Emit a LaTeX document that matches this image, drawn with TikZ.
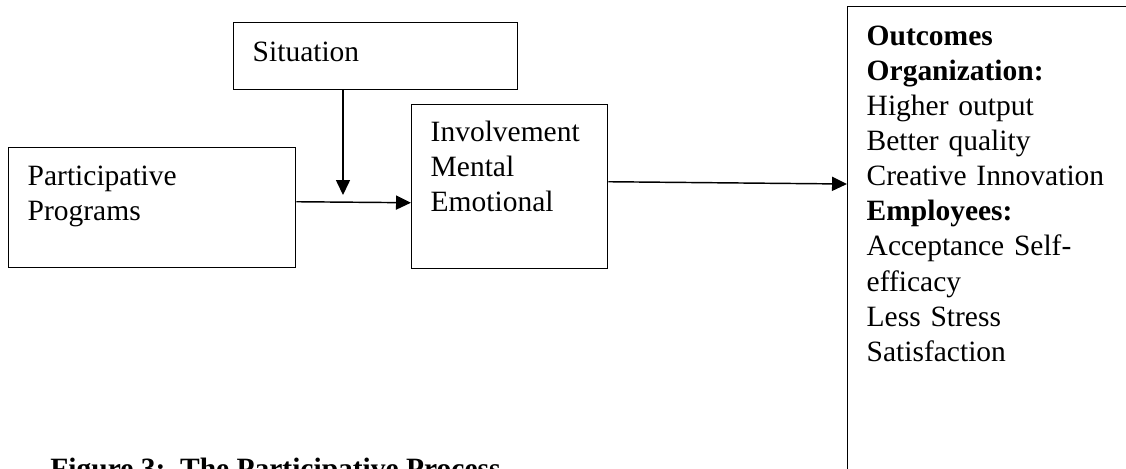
\documentclass[tikz,border=0pt]{standalone}
\usepackage{fontspec}
\setmainfont{Liberation Serif}
\usetikzlibrary{arrows.meta, positioning, calc}

\begin{document}
\begin{tikzpicture}[
    x=0.4138pt, y=-0.4138pt,
    font=\fontsize{12.2}{14.5}\selectfont,
    box/.style={draw, line width=0.6pt, rectangle, anchor=north west, align=left, inner xsep=7.86pt, inner ysep=0pt},
    arrow/.style={line width=0.6pt, -{Triangle[length=6.2pt, width=5.8pt]}}
]
\path[use as bounding box, clip] (0,0) rectangle (1126,468);

% Boxes
\node (situation) [box, text width=101.8pt, text height=16.14pt, text depth=11.59pt] at (233,22) {Situation};
\node (participative) [box, text width=103pt, text height=15.72pt, text depth=33.93pt] at (8,147) {Participative\\Programs};
\node (involvement) [box, text width=65.4pt, text height=15.31pt, text depth=52.55pt] at (411,104) {Involvement\\Mental\\Emotional};
\node (outcomes) [box, text width=103.5pt, text height=16.14pt, text depth=184.1pt] at (847,6) {\textbf{Outcomes}\\\textbf{Organization:}\\Higher output\\Better quality\\Creative Innovation\\\textbf{Employees:}\\Acceptance Self-\\efficacy\\Less Stress\\Satisfaction};

% Caption
\node (caption) [anchor=base west, inner sep=0pt, font=\fontsize{12.2}{14.5}\selectfont\bfseries] at (50,478) {Figure 3:\ \ The Participative Process};

% Arrows
\coordinate (join) at (343,195);
\draw [arrow] (situation.south -| join) -- (join);
\draw [arrow] ($(participative.east)+(0,-6)$) -- ($(involvement.west)+(0,16)$);
\draw [arrow] ($(involvement.east)+(0,-5)$) -- ($(outcomes.north west)+(0,178)$);

\end{tikzpicture}
\end{document}
